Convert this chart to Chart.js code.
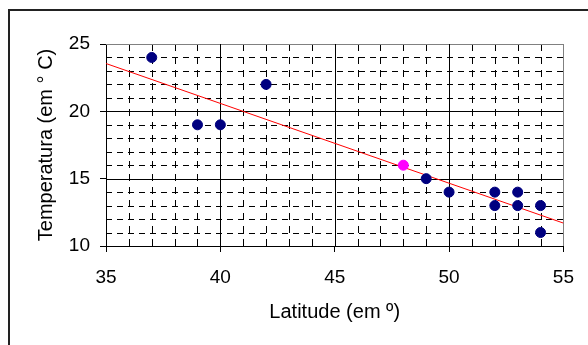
<!DOCTYPE html>
<html>
<head>
<meta charset="utf-8">
<script src="https://cdn.jsdelivr.net/npm/chart.js@4/dist/chart.umd.min.js"></script>
<style>
  html, body { margin: 0; padding: 0; background: #fff; }
  #wrap { width: 588px; height: 345px; }
</style>
</head>
<body>
<div id="wrap"><canvas id="chart" width="588" height="345"></canvas></div>
<script>
// latitude (x) and temperature (y)
var latitudes = [37, 39, 40, 42, 49, 50, 52, 52, 53, 53, 54, 54];
var temperatures = [24, 19, 19, 22, 15, 14, 14, 13, 14, 13, 13, 11];
// the highlighted (magenta) point
var highlightX = [48];
var highlightY = [16];
// trend line ends
var trendX = [35, 55];
var trendY = [23.55, 11.7];

// axis range and label step
var xRange = [35, 55];
var yRange = [10, 25];
var tickStep = 5;

function toPoints(xs, ys) {
  var pts = [];
  for (var i = 0; i < xs.length; i++) pts.push({ x: xs[i], y: ys[i] });
  return pts;
}

var fontFam = '"Liberation Sans", Arial, sans-serif';

// grid: dashed lines at every unit, solid at every label step
var gridLines = {
  id: 'gridLines',
  beforeDatasetsDraw: function(chart) {
    var c = chart.ctx, a = chart.chartArea;
    var xs = chart.scales.x, ys = chart.scales.y;
    var v, p;
    c.save();
    c.lineWidth = 1;
    c.strokeStyle = '#000';
    c.setLineDash([6, 5]);
    for (v = ys.min + 1; v < ys.max; v++) {
      if (v % tickStep === 0) continue;
      p = Math.round(ys.getPixelForValue(v)) + 0.5;
      c.beginPath(); c.moveTo(a.left, p); c.lineTo(a.right, p); c.stroke();
    }
    c.setLineDash([7, 6]);
    for (v = xs.min + 1; v < xs.max; v++) {
      if (v % tickStep === 0) continue;
      p = Math.round(xs.getPixelForValue(v)) + 0.5;
      c.beginPath(); c.moveTo(p, a.bottom); c.lineTo(p, a.top); c.stroke();
    }
    c.setLineDash([]);
    for (v = ys.min + tickStep; v <= ys.max; v += tickStep) {
      c.strokeStyle = v === ys.max ? '#808080' : '#000';
      p = Math.round(ys.getPixelForValue(v)) + 0.5;
      c.beginPath(); c.moveTo(a.left, p); c.lineTo(a.right, p); c.stroke();
    }
    for (v = xs.min + tickStep; v <= xs.max; v += tickStep) {
      c.strokeStyle = v === xs.max ? '#808080' : '#000';
      p = Math.round(xs.getPixelForValue(v)) + 0.5;
      c.beginPath(); c.moveTo(p, a.bottom); c.lineTo(p, a.top); c.stroke();
    }
    c.restore();
  }
};

// outer chart frame (only top and left edges are visible)
var frame = {
  id: 'frame',
  beforeDraw: function(chart) {
    var c = chart.ctx;
    c.save();
    c.fillStyle = '#fff';
    c.fillRect(0, 0, chart.width, chart.height);
    c.strokeStyle = '#222';
    c.lineWidth = 2;
    c.beginPath();
    c.moveTo(9, chart.height);
    c.lineTo(9, 10);
    c.lineTo(chart.width, 10);
    c.stroke();
    c.restore();
  }
};

new Chart(document.getElementById('chart'), {
  type: 'scatter',
  data: {
    datasets: [
      {
        type: 'line',
        data: toPoints(trendX, trendY),
        borderColor: '#ff0000',
        borderWidth: 1,
        pointRadius: 0,
        fill: false,
        order: 3
      },
      {
        data: toPoints(latitudes, temperatures),
        backgroundColor: '#000080',
        borderColor: '#000080',
        pointRadius: 5,
        order: 2
      },
      {
        data: toPoints(highlightX, highlightY),
        backgroundColor: '#ff00ff',
        borderColor: '#ff00ff',
        pointRadius: 5,
        order: 1
      }
    ]
  },
  options: {
    responsive: false,
    animation: false,
    layout: { padding: { left: 0, top: 44, right: 22, bottom: 0 } },
    plugins: { legend: { display: false }, tooltip: { enabled: false } },
    scales: {
      x: {
        type: 'linear',
        min: xRange[0], max: xRange[1],
        afterFit: function(s) { s.height = 99; },
        ticks: { stepSize: tickStep, color: '#000', padding: 14, font: { family: fontFam, size: 19 } },
        grid: { drawOnChartArea: false, color: '#000', lineWidth: 1, tickLength: 6, tickColor: '#000' },
        border: { color: '#000', width: 1 },
        title: { display: true, text: 'Latitude (em º)', color: '#000', padding: { top: 0, bottom: 21 }, font: { family: fontFam, size: 20 } }
      },
      y: {
        min: yRange[0], max: yRange[1],
        afterFit: function(s) { s.width = 106; },
        ticks: { stepSize: tickStep, color: '#000', padding: 10, font: { family: fontFam, size: 19 } },
        grid: { drawOnChartArea: false, color: '#000', lineWidth: 1, tickLength: 6, tickColor: '#000' },
        border: { color: '#000', width: 1 },
        title: { display: true, text: 'Temperatura (em ° C)', color: '#000', padding: { top: 34, bottom: 0 }, font: { family: fontFam, size: 20 } }
      }
    }
  },
  plugins: [frame, gridLines]
});
</script>
</body>
</html>
